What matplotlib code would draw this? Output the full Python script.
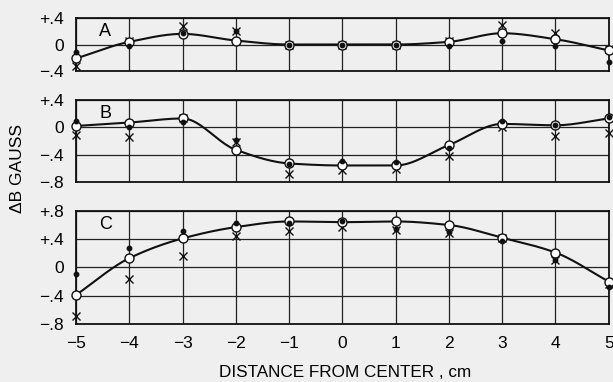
import numpy as np
import matplotlib
matplotlib.use("Agg")
import matplotlib.pyplot as plt

plt.rcParams['font.family'] = ['Liberation Sans', 'DejaVu Sans']

x = [-5, -4, -3, -2, -1, 0, 1, 2, 3, 4, 5]
xtick_labels = ["−5", "−4", "−3", "−2", "−1", "0", "1", "2", "3", "4", "5"]

# Panel A
a_circle = [-0.21, 0.04, 0.16, 0.06, 0.0, 0.0, 0.0, 0.04, 0.17, 0.08, -0.09]
a_dot = [-0.12, -0.03, 0.18, 0.21, 0.0, 0.0, 0.0, -0.02, 0.05, -0.02, -0.26]
a_x = [-0.32, 0.06, 0.28, 0.20, 0.0, 0.0, 0.0, 0.05, 0.29, 0.18, -0.07]
# Panel B
b_circle = [0.02, 0.07, 0.13, -0.33, -0.53, -0.56, -0.56, -0.26, 0.05, 0.03, 0.13]
b_dot = [0.10, 0.00, 0.08, -0.19, -0.54, -0.50, -0.51, -0.30, 0.10, 0.03, 0.15]
b_x = [-0.11, -0.14, 0.13, -0.22, -0.68, -0.63, -0.61, -0.42, 0.00, -0.12, -0.09]
# Panel C
c_circle = [-0.39, 0.13, 0.41, 0.57, 0.65, 0.64, 0.65, 0.60, 0.42, 0.21, -0.20]
c_dot = [-0.09, 0.28, 0.52, 0.63, 0.63, 0.66, 0.55, 0.50, 0.38, 0.10, -0.28]
c_x = [-0.69, -0.17, 0.16, 0.44, 0.52, 0.57, 0.53, 0.48, 0.42, 0.10, -0.24]

panels = [
    ("A", a_circle, a_dot, a_x, [0.4, 0.0, -0.4], ["+.4", "0", "−.4"]),
    ("B", b_circle, b_dot, b_x, [0.4, 0.0, -0.4, -0.8], ["+.4", "0", "−.4", "−.8"]),
    ("C", c_circle, c_dot, c_x, [0.8, 0.4, 0.0, -0.4, -0.8], ["+.8", "+.4", "0", "−.4", "−.8"]),
]

rects = [
    [0.124, 0.814, 0.869, 0.139],
    [0.124, 0.524, 0.869, 0.214],
    [0.124, 0.152, 0.869, 0.296],
]

def pchip(xs, ys, n=24):
    """Monotone cubic (Fritsch-Carlson) smoothing for drawing the curve."""
    xs = np.asarray(xs, float); ys = np.asarray(ys, float)
    h = np.diff(xs); d = np.diff(ys) / h
    m = np.zeros_like(ys)
    for k in range(1, len(ys) - 1):
        if d[k-1] * d[k] > 0:
            w1 = 2*h[k] + h[k-1]; w2 = h[k] + 2*h[k-1]
            m[k] = (w1 + w2) / (w1 / d[k-1] + w2 / d[k])
    m[0] = d[0]; m[-1] = d[-1]
    ox, oy = [], []
    for k in range(len(xs) - 1):
        t = np.linspace(0, 1, n, endpoint=False)
        h00 = 2*t**3 - 3*t**2 + 1; h10 = t**3 - 2*t**2 + t
        h01 = -2*t**3 + 3*t**2; h11 = t**3 - t**2
        ox.extend(xs[k] + t*h[k])
        oy.extend(h00*ys[k] + h10*h[k]*m[k] + h01*ys[k+1] + h11*h[k]*m[k+1])
    ox.append(xs[-1]); oy.append(ys[-1])
    return np.array(ox), np.array(oy)

fig = plt.figure(figsize=(6.13, 3.82), dpi=100)
fig.patch.set_facecolor('#efefef')

for i, (lab, circ, dot, xm, yt, ytl) in enumerate(panels):
    ax = fig.add_axes(rects[i])
    ax.set_facecolor('#efefef')
    ax.set_xlim(-5, 5)
    ax.set_ylim(min(yt), max(yt))
    ax.set_yticks(yt)
    ax.set_yticklabels(ytl, fontsize=12.5)
    ax.set_xticks(x)
    if i == 2:
        ax.set_xticklabels(xtick_labels, fontsize=12.5)
    else:
        ax.set_xticklabels([])
    ax.tick_params(axis='y', length=0, pad=9)
    ax.tick_params(axis='x', length=0, pad=9)
    ax.grid(True, color='#222222', linewidth=0.9)
    ax.set_axisbelow(True)
    for s in ax.spines.values():
        s.set_linewidth(1.3)
        s.set_color('#111111')
    sx, sy = pchip(x, circ)
    ax.plot(sx, sy, color='#111111', linewidth=1.5, zorder=3, clip_on=False)
    ax.plot(x, xm, linestyle='none', marker='x', markersize=5.5, markeredgewidth=1.0,
            color='#111111', zorder=4, clip_on=False)
    ax.plot(x, circ, linestyle='none', marker='o', markersize=6.5, markerfacecolor='white',
            markeredgecolor='#111111', markeredgewidth=1.0, zorder=5, clip_on=False)
    ax.plot(x, dot, linestyle='none', marker='o', markersize=3.2, color='#111111',
            zorder=6, clip_on=False)
    ax.text(-4.45, max(yt) - 0.07, lab, fontsize=13,
            ha='center', va='top', zorder=7)

fig.text(0.028, 0.558, "ΔB GAUSS", rotation=90, ha='center', va='center', fontsize=12.5)
fig.text(0.563, 0.024, "DISTANCE FROM CENTER , cm", ha='center', va='center', fontsize=12.3)

fig.savefig("out.png", dpi=100, facecolor=fig.get_facecolor())
